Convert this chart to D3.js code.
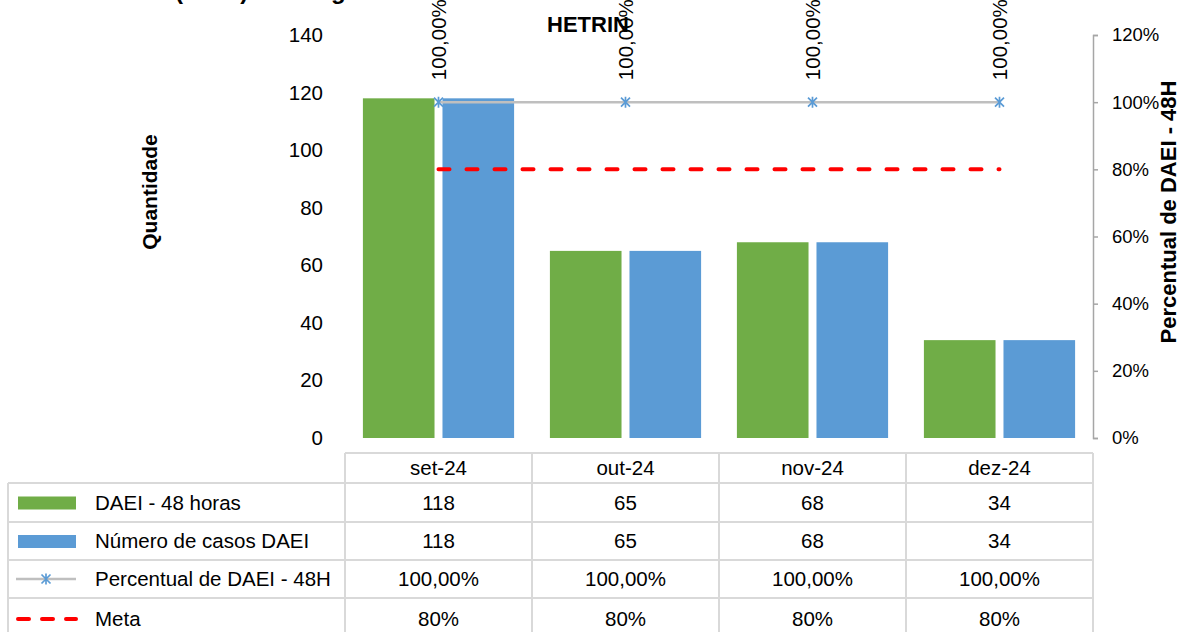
<!DOCTYPE html>
<html><head><meta charset="utf-8">
<script src="https://cdn.jsdelivr.net/npm/d3@7/dist/d3.min.js"></script>
<style>
body{margin:0;background:#fff;}
svg{display:block;font-family:"Liberation Sans",Arial,sans-serif;}
</style></head><body>
<svg id="c" width="1181" height="632"></svg>
<script>
const categories = ["set-24","out-24","nov-24","dez-24"];
const daei48 = [118,65,68,34];
const casos = [118,65,68,34];
const percentual = [1,1,1,1];
const meta = [0.8,0.8,0.8,0.8];
const leftTicks = [0,20,40,60,80,100,120,140];
const rightTicks = [0,0.2,0.4,0.6,0.8,1.0,1.2];
const seriesNames = ["DAEI - 48 horas","Número de casos DAEI","Percentual de DAEI - 48H","Meta"];
const titleLine1 = "Casos Notificados (DAEI) investigados em até 48 horas";
const titleLine2 = "HETRIN";

const GREEN="#70AD47", BLUE="#5B9BD5", GRAY="#BFBFBF", RED="#FF0000", GRID="#D9D9D9";
const FS=20.5;
const svg = d3.select("#c");
const L=345, R=1093, T=35, B=438;

const x = d3.scaleBand().domain(categories).range([L,R]).paddingInner(0).paddingOuter(0);
const xs = d3.scaleBand().domain(["a","b"]).range([0,x.bandwidth()]).paddingInner(0.1).paddingOuter(0.225);
const y = d3.scaleLinear().domain([0,140]).range([B,T]);
const y2 = d3.scaleLinear().domain([0,1.2]).range([B,T]);
const pctFmt = v => (v*100).toFixed(2).replace(".",",")+"%";
const pct0 = v => Math.round(v*100)+"%";

// title (first line cut off by the top edge, as in the reference)
const t1 = svg.append("text").attr("x",0).attr("y",-1)
  .attr("font-size",24).attr("font-weight","bold").text(titleLine1);
const pIdx = titleLine1.indexOf("(");
t1.attr("x", 175 - t1.node().getSubStringLength(0,pIdx));
svg.append("text").attr("x",588).attr("y",32).attr("text-anchor","middle")
  .attr("font-size",22).attr("font-weight","bold").text(titleLine2);

// left axis
const ya = svg.append("g").attr("transform",`translate(${L},0)`)
  .call(d3.axisLeft(y).tickValues(leftTicks).tickSize(0).tickPadding(22));
ya.select(".domain").remove();
ya.selectAll("text").attr("font-size",FS).attr("fill","#000").attr("font-family",null);

// right axis
const yb = svg.append("g").attr("transform",`translate(${R},0)`)
  .call(d3.axisRight(y2).tickValues(rightTicks).tickSize(5).tickPadding(14).tickFormat(pct0));
yb.select(".domain").attr("stroke","#A6A6A6").attr("stroke-width",1.5);
yb.selectAll(".tick line").attr("stroke","#A6A6A6").attr("stroke-width",1.5);
yb.selectAll("text").attr("font-size",18.5).attr("fill","#000").attr("font-family",null);

// axis titles
svg.append("text").attr("transform","translate(157,192) rotate(-90)").attr("text-anchor","middle")
  .attr("font-size",21).attr("font-weight","bold").text("Quantidade");
svg.append("text").attr("transform","translate(1176,212) rotate(-90)").attr("text-anchor","middle")
  .attr("font-size",22).attr("font-weight","bold").text(seriesNames[2]);

// bars
const g = svg.append("g");
g.selectAll("rect.g").data(categories).enter().append("rect")
  .attr("x",d=>x(d)+xs("a")).attr("width",xs.bandwidth())
  .attr("y",(d,i)=>y(daei48[i])).attr("height",(d,i)=>B-y(daei48[i])).attr("fill",GREEN);
g.selectAll("rect.b").data(categories).enter().append("rect")
  .attr("x",d=>x(d)+xs("b")).attr("width",xs.bandwidth())
  .attr("y",(d,i)=>y(casos[i])).attr("height",(d,i)=>B-y(casos[i])).attr("fill",BLUE);

const cx = d => x(d)+x.bandwidth()/2;
// percentual line
svg.append("path").datum(categories).attr("fill","none").attr("stroke",GRAY).attr("stroke-width",2.5)
  .attr("d",d3.line().x(d=>cx(d)).y((d,i)=>y2(percentual[i])));
// meta line
svg.append("path").datum(categories).attr("fill","none").attr("stroke",RED).attr("stroke-width",4)
  .attr("stroke-linecap","round").attr("stroke-dasharray","11,17")
  .attr("d",d3.line().x(d=>cx(d)).y((d,i)=>y2(meta[i])));

function star(sel,px,py,s){
  const h=s/2;
  sel.append("path").attr("d",`M${px-h},${py-h}L${px+h},${py+h}M${px-h},${py+h}L${px+h},${py-h}M${px},${py-h-1}L${px},${py+h+1}`)
    .attr("stroke",BLUE).attr("stroke-width",1.7).attr("fill","none");
}
categories.forEach((d,i)=>{ star(svg,cx(d),y2(percentual[i]),9); });

// rotated labels
svg.selectAll("text.lbl").data(categories).enter().append("text")
  .attr("transform",(d,i)=>`translate(${cx(d)+7},${y2(percentual[i])-22}) rotate(-90)`)
  .attr("font-size",FS).text((d,i)=>pctFmt(percentual[i]));

// data table
const rowsY=[453,483,522,560,598,640];
const colX=[L].concat(categories.map(d=>x(d)+x.bandwidth()));
const tg = svg.append("g").attr("stroke",GRID).attr("stroke-width",2);
tg.append("line").attr("x1",L).attr("x2",R).attr("y1",rowsY[0]).attr("y2",rowsY[0]);
for(let k=1;k<5;k++) tg.append("line").attr("x1",8).attr("x2",R).attr("y1",rowsY[k]).attr("y2",rowsY[k]);
colX.forEach(cxv=>tg.append("line").attr("x1",cxv).attr("x2",cxv).attr("y1",rowsY[0]).attr("y2",632));
tg.append("line").attr("x1",8).attr("x2",8).attr("y1",rowsY[1]).attr("y2",632);

const mid = k => (rowsY[k]+rowsY[k+1])/2;
categories.forEach(d=>{
  svg.append("text").attr("x",cx(d)).attr("y",mid(0)).attr("dy","0.35em").attr("text-anchor","middle").attr("font-size",FS).text(d);
});
const rowVals=[daei48.map(String),casos.map(String),percentual.map(pctFmt),meta.map(pct0)];
rowVals.forEach((vals,r)=>{
  categories.forEach((d,i)=>{
    svg.append("text").attr("x",cx(d)).attr("y",mid(r+1)).attr("dy","0.35em").attr("text-anchor","middle").attr("font-size",FS).text(vals[i]);
  });
  svg.append("text").attr("x",95).attr("y",mid(r+1)).attr("dy","0.35em").attr("font-size",FS).text(seriesNames[r]);
});
// legend keys
svg.append("rect").attr("x",18).attr("y",mid(1)-6).attr("width",58).attr("height",13).attr("fill",GREEN);
svg.append("rect").attr("x",18).attr("y",mid(2)-6).attr("width",58).attr("height",13).attr("fill",BLUE);
svg.append("line").attr("x1",16).attr("x2",76).attr("y1",mid(3)).attr("y2",mid(3)).attr("stroke",GRAY).attr("stroke-width",2.5);
star(svg,46,mid(3),9);
svg.append("line").attr("x1",18).attr("x2",76).attr("y1",mid(4)).attr("y2",mid(4)).attr("stroke",RED).attr("stroke-width",4)
  .attr("stroke-linecap","round").attr("stroke-dasharray","11,13");
</script></body></html>
